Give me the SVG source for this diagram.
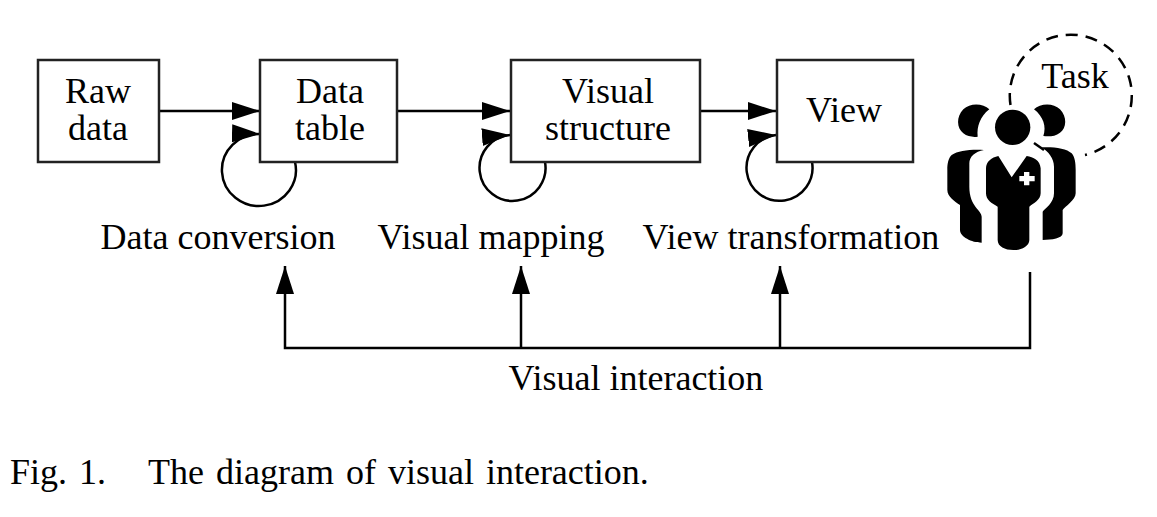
<svg xmlns="http://www.w3.org/2000/svg" width="1157" height="517" viewBox="0 0 1157 517">
<style>
text{font-family:"Liberation Serif","Times New Roman",serif;font-size:36px;fill:#000;text-anchor:middle}
.box{fill:#fff;stroke:#222;stroke-width:2.5}
.c{fill:none;stroke:#000;stroke-width:2.5}
.i{fill:#000}
</style>
<defs>
<marker id="a" markerUnits="userSpaceOnUse" markerWidth="30" markerHeight="20" refX="28" refY="10" orient="auto"><path d="M0 1L28 10L0 19Z" fill="#000"/></marker>
</defs>
<rect width="1157" height="517" fill="#fff"/>
<g id="connectors">
<path class="c" d="M159 111H260" marker-end="url(#a)"/>
<path class="c" d="M397 111H510" marker-end="url(#a)"/>
<path class="c" d="M700 111H776" marker-end="url(#a)"/>
<path class="c" d="M295 162A37 36 0 1 1 260 134" marker-end="url(#a)"/>
<path class="c" d="M545 162A33 33 0 1 1 510 135" marker-end="url(#a)"/>
<path class="c" d="M812 162A33 33 0 1 1 776 135" marker-end="url(#a)"/>
<path class="c" d="M1030 272V348H285V266" marker-end="url(#a)"/>
<path class="c" d="M521 348V266" marker-end="url(#a)"/>
<path class="c" d="M780 348V266" marker-end="url(#a)"/>
</g>
<g id="raw-data"><rect class="box" x="38" y="60" width="121" height="102"/><text x="98" y="103">Raw</text><text x="98" y="140">data</text></g>
<g id="data-table"><rect class="box" x="260" y="60" width="137" height="102"/><text x="330" y="103">Data</text><text x="330" y="140">table</text></g>
<g id="visual-structure"><rect class="box" x="511" y="60" width="189" height="102"/><text x="608" y="103">Visual</text><text x="608" y="140">structure</text></g>
<g id="view"><rect class="box" x="777" y="60" width="136" height="102"/><text x="844" y="122">View</text></g>
<g id="data-conversion"><text x="218" y="249">Data conversion</text></g>
<g id="visual-mapping"><text x="491" y="249">Visual mapping</text></g>
<g id="view-transformation"><text x="791" y="249">View transformation</text></g>
<g id="visual-interaction"><text x="636" y="390">Visual interaction</text></g>
<g id="task">
<path fill="none" stroke="#000" stroke-width="2.5" stroke-dasharray="12 8" d="M1010.500 105A61 61 0 1 1 1085 155"/>
<path fill="none" stroke="#000" stroke-width="2.500" d="M1034 143L1044 150"/>
<text x="1075" y="88">Task</text>
</g>
<g id="user" transform="translate(930 20) scale(.33333)">
<circle class="i" cx="248" cy="322" r="53"/>
<path class="i" d="M178 268C160 250 120 248 100 268C78 290 80 325 100 340C112 350 130 352 143 350C140 320 150 290 178 268Z"/>
<path class="i" d="M312 268C330 250 370 248 390 268C412 290 410 325 390 338C375 350 355 350 340 348C350 320 340 290 312 268Z"/>
<path class="i" d="M205 408L245 472L290 408C310 412 330 420 332 445L332 520C332 540 310 550 298 560L298 660C298 680 270 692 250 690C225 690 203 680 203 660L203 560C185 550 168 540 168 520L168 445C168 425 185 412 205 408Z"/>
<path class="i" d="M162 390C120 388 85 392 65 405C55 415 52 430 52 450L52 510C52 530 75 545 90 555L90 630C90 650 125 668 155 668L155 590C155 570 118 560 118 500L118 430C118 410 135 395 162 390Z"/>
<path class="i" d="M335 382C370 380 410 385 425 400C435 412 437 430 437 450L437 520C437 540 405 560 398 570L398 640C398 655 365 660 338 660L338 575C345 565 372 550 372 520L372 440C372 415 355 395 335 382Z"/>
<path fill="#fff" d="M282 456H298V468H314V484H298V496H282V484H268V468H282Z"/>
</g>
<g id="caption"><text x="10" y="484" style="text-anchor:start" word-spacing="3">Fig. 1.</text><text x="148" y="484" style="text-anchor:start" word-spacing="3">The diagram of visual interaction.</text></g>
</svg>
